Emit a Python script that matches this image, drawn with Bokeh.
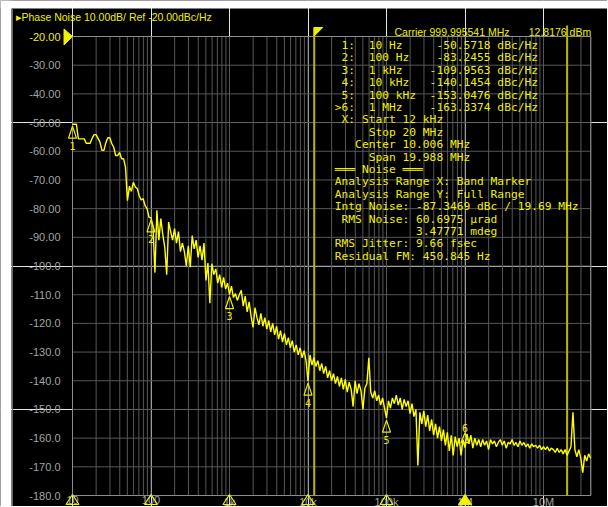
import numpy as np
from bokeh.plotting import figure
from bokeh.models import Range1d
from bokeh.core.properties import value
from bokeh.embed import file_html
from bokeh.resources import INLINE

# ---------------- data ----------------
points_per_decade = 40
start_hz = 10.0
stop_hz = 40e6
y_top, y_bottom = -20, -180

noise_dbc = [
    -50.6, -50.6, -50.6, -55.7, -55.7, -55.7, -55.7, -57.2, -57.2, -57.2,
    -55.5, -54.2, -54.2, -55.5, -56.8, -59.7, -59.7, -57.0, -55.3, -55.3,
    -57.3, -58.6, -61.5, -61.5, -60.4, -62.6, -62.6, -65.5, -77.2, -72.2,
    -74.0, -70.8, -72.5, -73.0, -75.5, -77.0, -76.5, -79.0, -80.0, -83.0,
    -83.2, -86.0, -102.3, -80.6, -91.0, -83.5, -89.0, -93.4, -103.0, -84.7,
    -88.0, -91.0, -87.0, -92.0, -88.0, -95.0, -92.0, -95.0, -100.0, -93.0,
    -100.4, -89.4, -94.0, -91.0, -97.0, -93.0, -98.0, -92.0, -105.0, -99.0,
    -113.0, -99.2, -103.0, -101.0, -106.0, -103.0, -107.5, -104.0, -108.0, -106.0,
    -110.0, -107.0, -111.0, -109.6, -112.0, -110.0, -108.5, -114.0, -110.5, -116.0,
    -112.5, -117.5, -121.4, -114.5, -118.0, -120.5, -116.5, -121.0, -118.0, -122.0,
    -119.0, -123.0, -120.0, -124.0, -121.0, -125.5, -122.5, -126.5, -123.5, -127.5,
    -125.0, -128.5, -126.0, -130.0, -127.5, -131.0, -128.5, -132.0, -129.5, -133.0,
    -140.1, -131.0, -134.5, -132.0, -135.0, -133.0, -136.5, -134.0, -137.5, -135.0,
    -139.0, -136.5, -140.0, -137.5, -141.0, -138.5, -142.0, -139.0, -143.0, -139.5,
    -144.0, -140.5, -143.0, -149.0, -140.0, -144.5, -141.0, -143.5, -150.0, -142.5,
    -141.0, -132.0, -144.0, -146.0, -143.5, -147.0, -145.0, -148.5, -146.0, -149.5,
    -153.0, -147.0, -149.5, -146.0, -148.0, -145.0, -148.5, -146.0, -150.0, -146.5,
    -149.0, -147.0, -151.5, -148.0, -152.5, -150.0, -169.5, -151.0, -155.0, -150.5,
    -156.0, -152.0, -157.5, -153.5, -159.0, -155.0, -160.0, -156.0, -161.0, -157.0,
    -162.5, -158.0, -164.5, -159.0, -166.0, -159.5, -163.0, -160.0, -166.0, -160.5,
    -163.3, -158.5, -162.0, -159.0, -163.5, -160.0, -162.5, -160.5, -163.0, -160.5,
    -162.5, -161.0, -164.0, -160.5, -162.0, -161.0, -163.0, -161.5, -160.5, -162.5,
    -161.0, -163.5, -161.5, -162.0, -160.5, -162.5, -161.5, -163.0, -161.0, -162.5,
    -161.5, -163.0, -162.0, -163.5, -162.0, -163.0, -162.5, -163.5, -162.5, -164.0,
    -163.0, -164.0, -163.0, -164.5, -163.5, -164.0, -165.0, -163.5, -165.0, -164.0,
    -165.5, -164.0, -166.0, -164.5, -163.0, -151.0, -164.0, -166.5, -164.0, -167.0,
    -172.0, -166.0, -168.0, -165.5, -167.0,
]
# instrument sweep: log-spaced offset frequencies
offset_hz = start_hz * 10 ** (np.arange(len(noise_dbc)) / points_per_decade)

marker_id = ["1", "2", "3", "4", "5", "6"]
marker_hz = [10, 100, 1e3, 1e4, 1e5, 1e6]
marker_hz_text = ["10 Hz", "100 Hz", "1 kHz", "10 kHz", "100 kHz", "1 MHz"]
marker_dbc = [-50.5718, -83.2455, -109.9563, -140.1454, -153.0476, -163.3374]
active_marker = "6"

band_start_hz = 12e3
band_stop_hz = 20e6

y_ticks = list(range(-20, -190, -10))
x_ticks = [10, 100, 1e3, 1e4, 1e5, 1e6, 1e7]
x_tick_labels = ["10", "100", "1k", "10k", "100k", "1M", "10M"]

title_text = "\u25b8Phase Noise 10.00dB/ Ref -20.00dBc/Hz"
carrier_text = "Carrier 999.995541 MHz"
power_text = "12.8176 dBm"
band_lines = [" X: Start 12 kHz", "     Stop 20 MHz",
              "   Center 10.006 MHz", "     Span 19.988 MHz"]
noise_lines = ["\u2550\u2550\u2550 Noise \u2550\u2550\u2550",
               "Analysis Range X: Band Marker",
               "Analysis Range Y: Full Range",
               "Intg Noise: -87.3469 dBc / 19.69 MHz",
               " RMS Noise: 60.6975 \u00b5rad",
               "            3.47771 mdeg",
               "RMS Jitter: 9.66 fsec",
               "Residual FM: 450.845 Hz"]

# ---------------- style / layout ----------------
YEL = "#f0f000"
TRACE = "#ffff00"
BAND = "#b8b800"
GRID = "#575757"
FRAME = "#8c8c8c"
LABEL_GRAY = "#a4a4a4"
SANS = "Liberation Sans"
MONO = "DejaVu Sans Mono"

OX, OY = 0, 0                 # page position of the canvas
W, H = 607, 506
PLOT_L, PLOT_T, PLOT_B = 72, 36, 495   # page px of the graticule edges
PX_PER_DEC = 78.5
PX_PER_DB = (PLOT_B - PLOT_T) / (y_top - y_bottom)
DBPX = 1.0 / PX_PER_DB


def fx(px):
    return start_hz * 10 ** ((px - PLOT_L) / PX_PER_DEC)


def fy(py):
    return y_top - (py - PLOT_T) * DBPX


def px_of(f):
    return PLOT_L + PX_PER_DEC * np.log10(f / start_hz)


p = figure(width=W, height=H, x_axis_type="log",
           x_axis_location=None, y_axis_location=None,
           x_range=Range1d(fx(OX), fx(OX + W)),
           y_range=Range1d(fy(OY + H), fy(OY)),
           output_backend="svg", toolbar_location=None, min_border=0)
p.title.visible = False
p.background_fill_color = "black"
p.border_fill_color = "black"
p.outline_line_color = None

# window surround (white strips, panel edge)
p.quad(left=fx(OX), right=fx(11), bottom=fy(OY + H), top=fy(OY),
       fill_color="white", line_color=None)
p.quad(left=fx(OX), right=fx(OX + W), bottom=fy(8), top=fy(OY),
       fill_color="white", line_color=None)
p.segment(x0=[fx(12)], x1=[fx(12)], y0=[fy(8)], y1=[fy(OY + H)],
          line_color="#6a6a6a", line_width=1)

# graticule
grid_x = [m * 10 ** d for d in range(1, 8) for m in range(1, 10)
          if start_hz <= m * 10 ** d <= stop_hz]
p.segment(x0=grid_x, x1=grid_x, y0=y_bottom, y1=y_top, line_color=GRID, line_width=1)
p.segment(x0=start_hz, x1=stop_hz, y0=y_ticks, y1=y_ticks, line_color=GRID, line_width=1)
p.quad(left=start_hz, right=stop_hz, bottom=y_bottom, top=y_top,
       fill_color=None, line_color=FRAME, line_width=1)

# y tick labels
y_labels = [(f"{t:.2f}" if t > -100 else f"{t:.1f}") for t in y_ticks]
y_colors = [YEL if t == y_top else LABEL_GRAY for t in y_ticks]
p.text(x=[start_hz] * len(y_ticks), y=y_ticks, text=y_labels, text_color=y_colors,
       x_offset=-12, text_align="right", text_baseline="middle",
       text_font=value(SANS), text_font_size="11px")
# x tick labels
p.text(x=x_ticks, y=[y_bottom] * len(x_ticks), text=x_tick_labels,
       text_color=LABEL_GRAY, text_align="center", text_baseline="top",
       text_font=value(SANS), text_font_size="11px")

# reference level marker
p.patch([fx(63.5), start_hz, fx(63.5)], [fy(28.5), y_top, fy(44.5)],
        fill_color=YEL, line_color=YEL)

# band marker lines with start flag
bs_px = px_of(band_start_hz)
p.segment(x0=[band_start_hz, band_stop_hz], x1=[band_start_hz, band_stop_hz],
          y0=y_bottom, y1=[fy(27), fy(25)], line_color=BAND, line_width=2)
p.patch([band_start_hz, fx(bs_px + 8.5), band_start_hz], [fy(27), fy(27), fy(35.5)],
        fill_color=YEL, line_color=YEL)

# trace
p.line(offset_hz, noise_dbc, line_color=TRACE, line_width=1.4)

# markers on the trace, numbers, and indicators under the axis
half = 10 ** (4 / PX_PER_DEC)
ind_half = 10 ** (6.5 / PX_PER_DEC)
tri_xs, tri_ys, num_y = [], [], []
ind_xs, ind_ys, ind_alpha = [], [], []
for mid, f, v in zip(marker_id, marker_hz, marker_dbc):
    active = mid == active_marker
    tri_xs.append([f, f * half, f / half])
    if active:
        tri_ys.append([v + 15 * DBPX, v + 5 * DBPX, v + 5 * DBPX])
        num_y.append(v + 20 * DBPX)
    else:
        tri_ys.append([v - 2 * DBPX, v - 14 * DBPX, v - 14 * DBPX])
        num_y.append(v - 21.5 * DBPX)
    ind_xs.append([f, f * ind_half, f / ind_half])
    ind_ys.append([fy(PLOT_B - 1), fy(PLOT_B + 9), fy(PLOT_B + 9)])
    ind_alpha.append(1.0 if active else 0.0)
p.patches(tri_xs, tri_ys, fill_color=None, line_color=YEL, line_width=1.2)
p.text(x=marker_hz, y=num_y, text=marker_id, text_color=YEL,
       text_align="center", text_baseline="middle",
       text_font=value(MONO), text_font_size="10px")
p.patches(ind_xs, ind_ys, fill_color=YEL, fill_alpha=ind_alpha,
          line_color=YEL, line_width=1.2)

# header texts
p.text(x=[fx(15)], y=[fy(16)], text=[title_text], text_color=YEL,
       text_align="left", text_baseline="middle",
       text_font=value(SANS), text_font_size="10.5px")
p.text(x=[fx(509)], y=[fy(31)], text=[carrier_text], text_color=YEL,
       text_align="right", text_baseline="middle",
       text_font=value(SANS), text_font_size="10.5px")
p.text(x=[fx(590.7)], y=[fy(31)], text=[power_text], text_color=YEL,
       text_align="right", text_baseline="middle",
       text_font=value(SANS), text_font_size="10.5px")

# marker / noise table (monospace, spaces kept as no-break spaces)
table = []
for mid, ft, v in zip(marker_id, marker_hz_text, marker_dbc):
    lead = ">" if mid == active_marker else " "
    table.append(f"{lead}{mid}:  {ft:<9}{v:>9.4f} dBc/Hz")
table += band_lines + noise_lines
table = [t.replace(" ", "\u00a0") for t in table]
p.text(x=[fx(334.3)] * len(table), y=[fy(45 + 12.4 * k) for k in range(len(table))],
       text=table, text_color=YEL, text_align="left", text_baseline="middle",
       text_font=value(MONO), text_font_size="11.25px")

open("out.html", "w").write(file_html(p, INLINE))
